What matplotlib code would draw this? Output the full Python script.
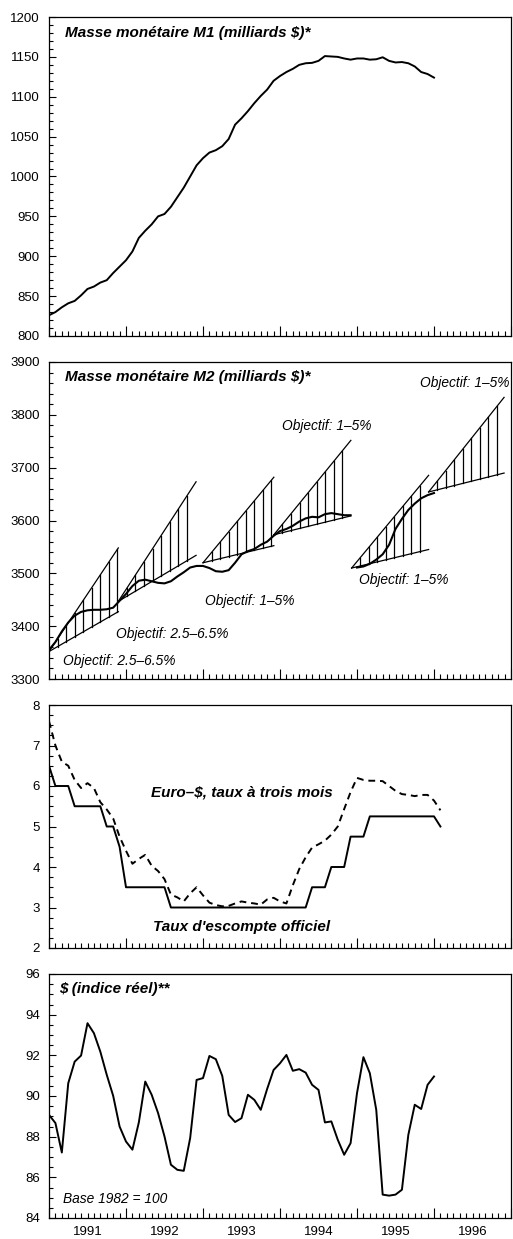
import numpy as np
import matplotlib.pyplot as plt
from matplotlib.ticker import MultipleLocator

plt.rcParams['font.family'] = ['Liberation Sans', 'DejaVu Sans']

# monthly data, Jan 1991 onwards
m1 = [826, 830, 836, 841, 844, 851, 859, 862, 867, 870, 879, 887,
      895, 906, 923, 932, 940, 950, 953, 962, 974, 986, 1000, 1014,
      1023, 1030, 1033, 1038, 1047, 1065, 1073, 1082, 1092, 1101, 1109, 1120,
      1126, 1131, 1135, 1140, 1142, 1142.5, 1145, 1151, 1150.5, 1150, 1148, 1146.5,
      1148, 1148, 1146.5, 1147, 1149.5, 1145, 1143, 1143.5, 1142, 1138, 1131, 1128.5,
      1124]

m2_a = [3355, 3370, 3390, 3407, 3420, 3427, 3430, 3431, 3431, 3432, 3435, 3448,
        3461, 3476, 3486, 3488, 3485, 3482, 3481, 3485, 3494, 3502, 3511, 3514,
        3514, 3510, 3504, 3503, 3506, 3520, 3536, 3542, 3546, 3554, 3560, 3571,
        3580, 3584, 3590, 3598, 3604, 3607, 3606, 3612, 3614, 3612, 3610, 3610]
m2_b = [3511, 3513, 3518, 3526, 3536, 3554, 3584, 3603, 3620, 3632, 3642, 3648,
        3652]

# target corridors
cone_start = [1991.0, 1991.9, 1993.0, 1993.92, 1994.93, 1995.93]
cone_end = [1991.9, 1992.91, 1993.92, 1994.92, 1995.93, 1996.91]
cone_base = [3352, 3447, 3520, 3573, 3510, 3654]
cone_low = [2.5, 2.5, 1, 1, 1, 1]
cone_high = [6.5, 6.5, 5, 5, 5, 5]

discount = [6.5, 6.0, 6.0, 6.0, 5.5, 5.5, 5.5, 5.5, 5.5, 5.0, 5.0, 4.5,
            3.5, 3.5, 3.5, 3.5, 3.5, 3.5, 3.5, 3.0, 3.0, 3.0, 3.0, 3.0,
            3.0, 3.0, 3.0, 3.0, 3.0, 3.0, 3.0, 3.0, 3.0, 3.0, 3.0, 3.0,
            3.0, 3.0, 3.0, 3.0, 3.0, 3.5, 3.5, 3.5, 4.0, 4.0, 4.0, 4.75,
            4.75, 4.75, 5.25, 5.25, 5.25, 5.25, 5.25, 5.25, 5.25, 5.25, 5.25, 5.25,
            5.25, 5.0]
eurodollar = [7.6, 7.0, 6.6, 6.5, 6.15, 5.95, 6.07, 5.95, 5.6, 5.42, 5.2, 4.75,
              4.4, 4.08, 4.2, 4.3, 4.03, 3.9, 3.7, 3.32, 3.25, 3.15, 3.35, 3.5,
              3.3, 3.12, 3.06, 3.03, 3.04, 3.1, 3.15, 3.12, 3.1, 3.07, 3.2, 3.24,
              3.15, 3.1, 3.55, 3.95, 4.24, 4.48, 4.56, 4.65, 4.8, 5.0, 5.43, 5.85,
              6.2, 6.15, 6.13, 6.13, 6.12, 6.0, 5.88, 5.8, 5.78, 5.75, 5.78, 5.78,
              5.64, 5.4]

dollar = [89.07, 88.67, 87.22, 90.63, 91.69, 91.99, 93.58, 93.09, 92.18, 91.04, 90.01, 88.5,
          87.76, 87.36, 88.7, 90.71, 90.06, 89.16, 88.01, 86.62, 86.37, 86.32, 87.93, 90.79,
          90.88, 91.97, 91.81, 90.99, 89.07, 88.72, 88.91, 90.06, 89.81, 89.32, 90.35, 91.28,
          91.61, 92.02, 91.24, 91.32, 91.15, 90.55, 90.3, 88.7, 88.75, 87.85, 87.11, 87.68,
          90.14, 91.91, 91.12, 89.32, 85.15, 85.1, 85.15, 85.39, 88.09, 89.57, 89.36, 90.55,
          90.96]

years = [1991, 1992, 1993, 1994, 1995, 1996]


def t(n, offset=0):
    return 1991 + (np.arange(n) + offset) / 12


fig = plt.figure(figsize=(5.13, 12.39), dpi=100)


def panel(top, bottom, ylim, major, minor):
    ax = fig.add_axes([49 / 513, 1 - bottom / 1239, 462 / 513, (bottom - top) / 1239])
    ax.set_xlim(1991, 1997)
    ax.set_ylim(*ylim)
    ax.set_xticks(np.arange(1991, 1998))
    ax.xaxis.set_minor_locator(MultipleLocator(1 / 12))
    ax.yaxis.set_major_locator(MultipleLocator(major))
    ax.yaxis.set_minor_locator(MultipleLocator(minor))
    ax.tick_params(which='both', direction='in', labelbottom=False, width=0.8,
                   labelsize=9.5, pad=6.5)
    ax.tick_params(axis='x', which='major', length=7)
    ax.tick_params(axis='x', which='minor', length=3.5)
    ax.tick_params(axis='y', which='major', length=5)
    ax.tick_params(axis='y', which='minor', length=3)
    for s in ax.spines.values():
        s.set_linewidth(0.9)
    return ax


title_kw = dict(fontsize=11, fontweight='bold', fontstyle='italic')
note_kw = dict(fontsize=9.9, fontstyle='italic', va='center')

# M1
ax1 = panel(17, 336, (800, 1200), 50, 10)
ax1.plot(t(len(m1)), m1, color='black', lw=1.4)
ax1.text(0.035, 0.95, 'Masse monétaire M1 (milliards $)*', transform=ax1.transAxes,
         va='center', **title_kw)

# M2 with target corridors
ax2 = panel(362, 679, (3300, 3900), 100, 20)
for t0, t1, b, lo, hi in zip(cone_start, cone_end, cone_base, cone_low, cone_high):
    ax2.plot([t0, t1], [b, b * (1 + lo / 100 * (t1 - t0))], color='black', lw=0.9)
    ax2.plot([t0, t1], [b, b * (1 + hi / 100 * (t1 - t0))], color='black', lw=0.9)
    for k in range(1, 9):
        th = t0 + k / 9
        if th > t1 + 0.01:
            break
        ax2.plot([th, th], [b * (1 + lo / 100 * (th - t0)), b * (1 + hi / 100 * (th - t0))],
                 color='black', lw=0.9)
ax2.plot(t(len(m2_a)), m2_a, color='black', lw=1.5)
ax2.plot(t(len(m2_b), 48), m2_b, color='black', lw=1.5)
ax2.text(0.035, 0.953, 'Masse monétaire M2 (milliards $)*', transform=ax2.transAxes,
         va='center', **title_kw)
ax2.text(1991.18, 3334, 'Objectif: 2.5–6.5%', **note_kw)
ax2.text(1991.87, 3386, 'Objectif: 2.5–6.5%', **note_kw)
ax2.text(1993.02, 3448, 'Objectif: 1–5%', **note_kw)
ax2.text(1994.03, 3778, 'Objectif: 1–5%', **note_kw)
ax2.text(1995.02, 3488, 'Objectif: 1–5%', **note_kw)
ax2.text(1995.82, 3860, 'Objectif: 1–5%', **note_kw)

# interest rates
ax3 = panel(705, 948, (2, 8), 1, 0.25)
ax3.plot(t(len(discount)), discount, color='black', lw=1.4)
ax3.plot(t(len(eurodollar)), eurodollar, color='black', lw=1.4, ls=(0, (3.5, 2.5)))
ax3.text(1992.33, 5.83, 'Euro–$, taux à trois mois', va='center', **title_kw)
ax3.text(1992.35, 2.53, "Taux d'escompte officiel", va='center', **title_kw)

# real dollar index
ax4 = panel(974, 1218, (84, 96), 2, 0.5)
ax4.plot(t(len(dollar)), dollar, color='black', lw=1.4)
ax4.text(0.022, 0.9385, '$ (indice réel)**', transform=ax4.transAxes, va='center',
         **title_kw)
ax4.text(0.03, 0.078, 'Base 1982 = 100', transform=ax4.transAxes, **note_kw)
for y in years:
    ax4.text(y + 0.5, -0.057, str(y), transform=ax4.get_xaxis_transform(),
             ha='center', va='center', fontsize=9.5)

fig.savefig('out.png', dpi=100)
